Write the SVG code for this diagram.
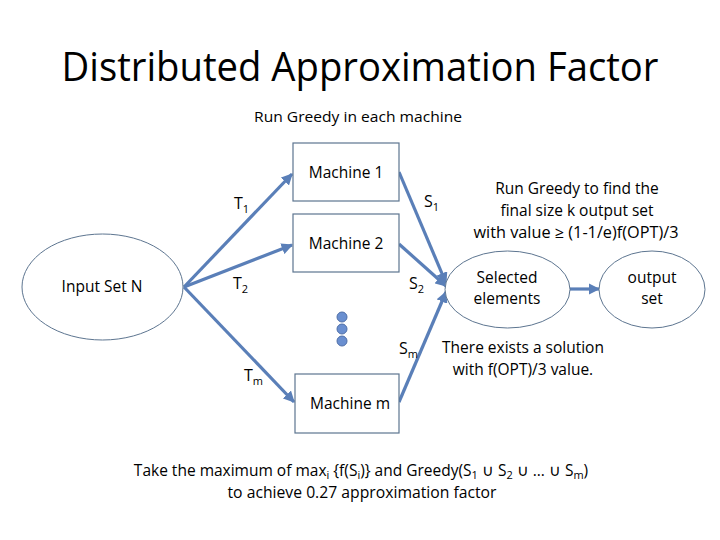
<svg xmlns="http://www.w3.org/2000/svg" width="720" height="540" viewBox="0 0 720 540">
<defs>
<marker id="ah" viewBox="0 0 10 10" refX="9" refY="5" markerWidth="3.6" markerHeight="3.6" orient="auto" markerUnits="strokeWidth">
<path d="M0,0 L10,5 L0,10 z" fill="#5a7fb8"/>
</marker>
</defs>
<style>
text{font-family:"Open Sans","Noto Sans","Liberation Sans",sans-serif;fill:#000}
.lbl{font-size:15.5px;text-anchor:middle}
.box{fill:#fff;stroke:#5d7590;stroke-width:1.2}
.ell{fill:#fff;stroke:#5d7590;stroke-width:1}
.con{stroke:#5a7fb8;stroke-width:3.2;fill:none;marker-end:url(#ah)}
.sub{font-size:11px}
</style>
<rect width="720" height="540" fill="#fff"/>
<text x="360" y="81" font-size="40" text-anchor="middle" textLength="597" lengthAdjust="spacingAndGlyphs">Distributed Approximation Factor</text>
<text x="358" y="122" font-size="15" text-anchor="middle" textLength="208" lengthAdjust="spacingAndGlyphs">Run Greedy in each machine</text>

<g id="connectors">
<line class="con" x1="184" y1="287" x2="292" y2="174"/>
<line class="con" x1="184" y1="287" x2="292" y2="245"/>
<line class="con" x1="184" y1="287" x2="294" y2="402"/>
<line class="con" x1="399" y1="172" x2="446" y2="283"/>
<line class="con" x1="399" y1="244" x2="446" y2="286"/>
<line class="con" x1="399" y1="402" x2="446" y2="292"/>
<line class="con" x1="570" y1="289" x2="599" y2="289"/>
<text x="234" y="209" font-size="16">T<tspan class="sub" dy="4">1</tspan></text>
<text x="233" y="289" font-size="16">T<tspan class="sub" dy="4">2</tspan></text>
<text x="244" y="381" font-size="16">T<tspan class="sub" dy="4">m</tspan></text>
<text x="424" y="207" font-size="16">S<tspan class="sub" dy="4">1</tspan></text>
<text x="409" y="289" font-size="16">S<tspan class="sub" dy="4">2</tspan></text>
<text x="399" y="354" font-size="16">S<tspan class="sub" dy="4">m</tspan></text>
</g>

<g id="input">
<ellipse class="ell" cx="102.5" cy="287" rx="80.5" ry="53"/>
<text class="lbl" x="102" y="292">Input Set N</text>
</g>
<g id="machine1">
<rect class="box" x="293" y="143" width="106" height="58"/>
<text class="lbl" x="346" y="178">Machine 1</text>
</g>
<g id="machine2">
<rect class="box" x="293" y="214" width="106" height="58"/>
<text class="lbl" x="346" y="249">Machine 2</text>
</g>
<g id="machinem">
<rect class="box" x="295" y="374" width="104" height="59"/>
<text class="lbl" x="350" y="409">Machine m</text>
</g>
<g id="dots" fill="#6a8fd0" stroke="#4f6fa8" stroke-width="1">
<circle cx="342" cy="317" r="5"/>
<circle cx="342" cy="329" r="5"/>
<circle cx="342" cy="341" r="5"/>
</g>
<g id="selected">
<ellipse class="ell" cx="507.5" cy="289.5" rx="62.5" ry="38.5"/>
<text class="lbl" x="507" y="283">Selected</text>
<text class="lbl" x="507" y="304">elements</text>
</g>
<g id="output">
<ellipse class="ell" cx="652" cy="289.5" rx="53" ry="38.5"/>
<text class="lbl" x="652" y="283">output</text>
<text class="lbl" x="652" y="304">set</text>
</g>
<g id="notes">
<text class="lbl" x="577" y="194">Run Greedy to find the</text>
<text class="lbl" x="577" y="216">final size k output set</text>
<text class="lbl" x="576" y="238" textLength="205" lengthAdjust="spacingAndGlyphs">with value ≥ (1-1/e)f(OPT)/3</text>
<text class="lbl" x="523" y="353">There exists a solution</text>
<text class="lbl" x="523" y="375">with f(OPT)/3 value.</text>
<text class="lbl" x="361" y="476" font-size="15.5">Take the maximum of max<tspan class="sub" dy="3">i</tspan><tspan dy="-3"> {f(S</tspan><tspan class="sub" dy="3">i</tspan><tspan dy="-3">)} and Greedy(S</tspan><tspan class="sub" dy="3">1</tspan><tspan dy="-3"> ∪ S</tspan><tspan class="sub" dy="3">2</tspan><tspan dy="-3"> ∪ … ∪ S</tspan><tspan class="sub" dy="3">m</tspan><tspan dy="-3">)</tspan></text>
<text class="lbl" x="362" y="498" textLength="269" lengthAdjust="spacingAndGlyphs">to achieve 0.27 approximation factor</text>
</g>
</svg>
